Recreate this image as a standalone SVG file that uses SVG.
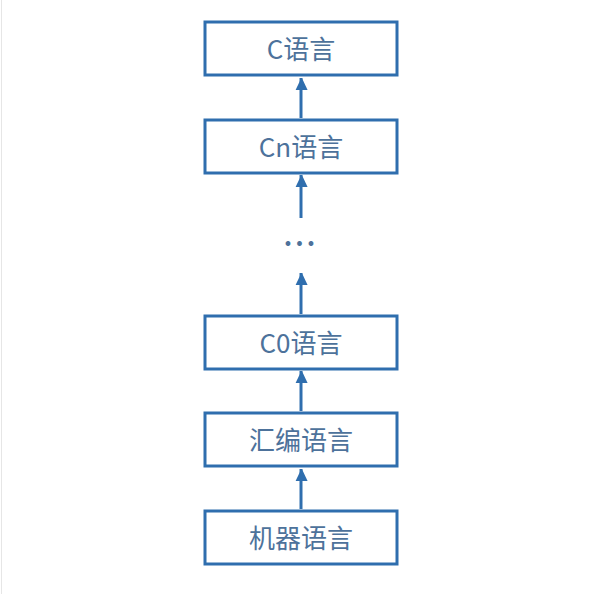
<svg xmlns="http://www.w3.org/2000/svg" width="596" height="594" viewBox="0 0 596 594">
<style>
.box{fill:#ffffff;stroke:#2f6eae;stroke-width:3}
.lbl{font-family:"Noto Sans CJK SC","Noto Sans",sans-serif;font-size:26px;fill:#4d729b;text-anchor:middle;dominant-baseline:central}
.conn{stroke:#2f6eae;stroke-width:3;fill:none}
.head{fill:#2f6eae}
</style>
<defs>
<marker id="ah" markerWidth="4" markerHeight="4.4" refX="4" refY="2" orient="auto" markerUnits="strokeWidth">
<path d="M0,0 L4.2,2 L0,4 Z" class="head" transform="translate(0,0.2)"/>
</marker>
</defs>
<rect width="596" height="594" fill="#ffffff"/>
<line x1="1.5" y1="0" x2="1.5" y2="594" stroke="#e6e6e6" stroke-width="1"/>
<g id="connectors">
<line class="conn" x1="301" y1="118" x2="301" y2="78" marker-end="url(#ah)"/>
<line class="conn" x1="301" y1="218" x2="301" y2="175" marker-end="url(#ah)"/>
<line class="conn" x1="301" y1="314" x2="301" y2="273" marker-end="url(#ah)"/>
<line class="conn" x1="301" y1="411" x2="301" y2="371" marker-end="url(#ah)"/>
<line class="conn" x1="301" y1="509" x2="301" y2="469" marker-end="url(#ah)"/>
</g>
<g id="c">
<rect class="box" x="205" y="22" width="192" height="53"/>
<text class="lbl" x="301" y="47">C语言</text>
</g>
<g id="cn">
<rect class="box" x="205" y="120" width="192" height="53"/>
<text class="lbl" x="301" y="145">Cn语言</text>
</g>
<g id="ellipsis">
<text class="lbl" x="301" y="234" style="letter-spacing:3px;font-weight:bold">...</text>
</g>
<g id="c0">
<rect class="box" x="205" y="316" width="192" height="53"/>
<text class="lbl" x="301" y="341">C0语言</text>
</g>
<g id="asm">
<rect class="box" x="205" y="413" width="192" height="53"/>
<text class="lbl" x="301" y="438">汇编语言</text>
</g>
<g id="machine">
<rect class="box" x="205" y="511" width="192" height="53"/>
<text class="lbl" x="301" y="536">机器语言</text>
</g>
</svg>
